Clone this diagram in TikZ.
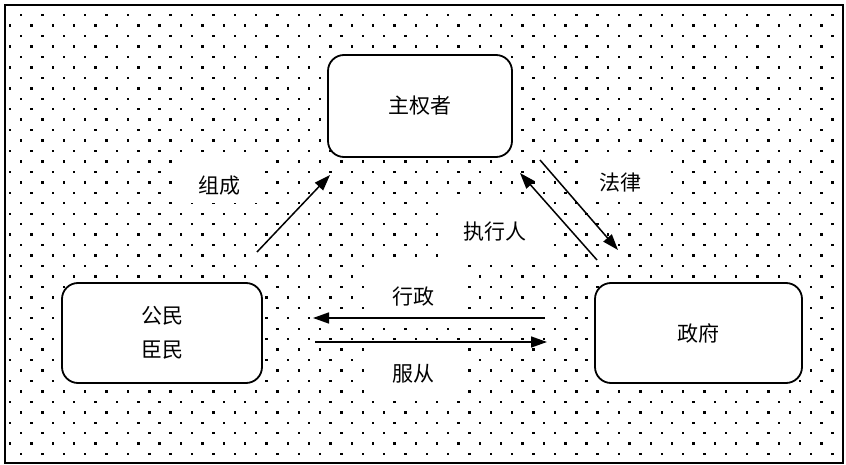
\documentclass[tikz,border=0pt]{standalone}
\usepackage{fontspec}
\setmainfont{Noto Sans CJK SC}
\usetikzlibrary{arrows.meta}
\begin{document}
\begin{tikzpicture}[x=1pt,y=-1pt,
  box/.style={draw,line width=1.8pt,rounded corners=16pt,fill=white,
    font=\fontsize{21}{34}\selectfont,align=center,inner sep=0pt},
  lbl/.style={inner sep=0pt,font=\fontsize{21}{24}\selectfont},
  whitepad/.style={fill=white},
  arr/.style={line width=1.5pt,-{Triangle[length=16pt,width=11pt]}}]
\useasboundingbox (0,0) rectangle (846,465);
\fill[white] (0,0) rectangle (846,465);
% dotted background
\begin{scope}
  \clip (5,5) rectangle (843,463);
  \foreach \i in {0,...,43}{
    \foreach \j in {0,...,40}{
      \fill ({20+21.35*\j-11*mod(\i,2)},{14+10.45*\i}) rectangle ++(2.4,2.4);
    }
  }
\end{scope}
\draw[line width=1.5pt] (5,5) rectangle (843,463);
% white pads behind labels
\fill[whitepad] (173,157) rectangle (262,203);
\fill[whitepad] (578,158) rectangle (668,202);
\fill[whitepad] (440,200) rectangle (547,257);
\fill[whitepad] (365,265) rectangle (463,310);
\fill[whitepad] (365,348) rectangle (463,395);
% boxes
\node[box,minimum width=184pt,minimum height=102pt] (sov) at (420,106) {主权者};
\node[box,minimum width=200pt,minimum height=100pt] (cit) at (162,333) {公民\\臣民};
\node[box,minimum width=207pt,minimum height=100pt] (gov) at (698.5,333) {政府};
% labels
\node[lbl] (lzc) at (219,186) {组成};
\node[lbl] (lfl) at (620,183) {法律};
\node[lbl] (lzx) at (495,232) {执行人};
\node[lbl] (lxz) at (413,297) {行政};
\node[lbl] (lfc) at (413,374) {服从};
% arrow end points
\coordinate (a1s) at (257,252);
\coordinate (a1e) at (330,175);
\coordinate (a2s) at (597,260);
\coordinate (a2e) at (520,173);
\coordinate (a3s) at (540,160);
\coordinate (a3e) at (618,250);
\coordinate (a4s) at (543,318);
\coordinate (a4e) at (313,318);
\coordinate (a5s) at (315,342);
\coordinate (a5e) at (547,342);
\draw[arr] (a1s) -- (a1e);
\draw[arr] (a2s) -- (a2e);
\draw[arr] (a3s) -- (a3e);
\draw[arr] (a4s) -- (a4e);
\draw[arr] (a5s) -- (a5e);
\end{tikzpicture}
\end{document}
